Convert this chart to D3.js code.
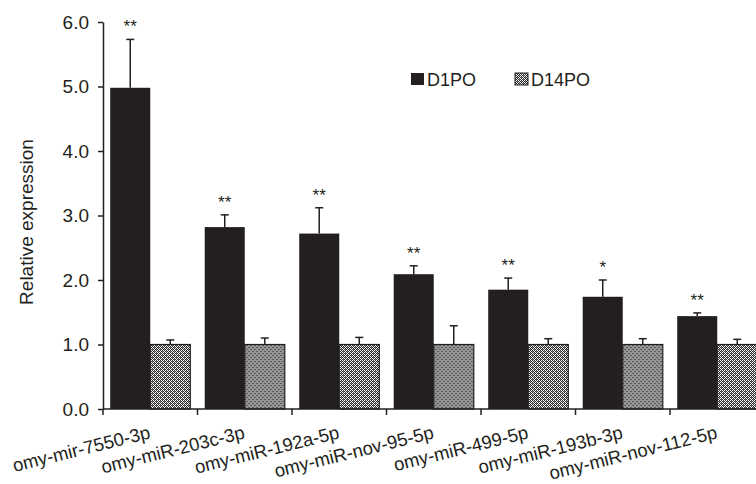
<!DOCTYPE html>
<html><head><meta charset="utf-8">
<script src="https://cdn.jsdelivr.net/npm/d3@7"></script>
<style>body{margin:0;background:#fff}svg{display:block;font-family:"Liberation Sans",Arial,sans-serif}</style>
</head><body><svg id="c" width="756" height="484"></svg>
<script>
const categories=["omy-mir-7550-3p","omy-miR-203c-3p","omy-miR-192a-5p","omy-miR-nov-95-5p","omy-miR-499-5p","omy-miR-193b-3p","omy-miR-nov-112-5p"];
const seriesNames=["D1PO","D14PO"];
const d1po=[4.98,2.82,2.72,2.09,1.85,1.74,1.44];
const d1poErr=[0.75,0.19,0.40,0.13,0.18,0.26,0.05];
const d14po=[1.0,1.0,1.0,1.0,1.0,1.0,1.0];
const d14poErr=[0.07,0.10,0.11,0.29,0.09,0.09,0.08];
const sig=["**","**","**","**","**","*","**"];
const yTicks=[0,1,2,3,4,5,6];

(function(){
const svg=d3.select("#c");
const mLeft=103, mTop=22, mBottom=409, catW=94.5;
const mRight=mLeft+catW*categories.length;
const x=d3.scaleBand().domain(categories).range([mLeft,mRight]).paddingInner(0).paddingOuter(0);
const xs=d3.scaleBand().domain(seriesNames).range([0,x.bandwidth()]).paddingOuter(0.18).paddingInner(0);
const y=d3.scaleLinear().domain([0,6]).range([mBottom,mTop]);
const ink="#231f20";

const defs=svg.append("defs");
const pat=defs.append("pattern").attr("id","hatch").attr("patternUnits","userSpaceOnUse").attr("width",4).attr("height",4);
pat.append("rect").attr("width",4).attr("height",4).attr("fill","#fff");
[[1,0,"#2a2a2a"],[0,1,"#2a2a2a"],[2,1,"#2a2a2a"],[1,2,"#2a2a2a"],[1,1,"#888"],
 [3,2,"#2a2a2a"],[2,3,"#2a2a2a"],[0,3,"#2a2a2a"],[3,0,"#2a2a2a"],[3,3,"#888"]].forEach(p=>{
  pat.append("rect").attr("x",p[0]).attr("y",p[1]).attr("width",1).attr("height",1).attr("fill",p[2]);
});

const data=categories.map((c,i)=>({c,i,vals:[{s:"D1PO",v:d1po[i],e:d1poErr[i]},{s:"D14PO",v:d14po[i],e:d14poErr[i]}]}));

const g=svg.append("g");
const groups=g.selectAll("g.grp").data(data).enter().append("g").attr("class","grp").attr("transform",d=>`translate(${x(d.c)},0)`);
groups.selectAll("rect").data(d=>d.vals).enter().append("rect")
 .attr("x",d=>xs(d.s)).attr("width",xs.bandwidth())
 .attr("y",d=>y(d.v)).attr("height",d=>y(0)-y(d.v))
 .attr("fill",d=>d.s==="D1PO"?ink:"url(#hatch)")
 .attr("stroke",ink).attr("stroke-width",d=>d.s==="D1PO"?0:1.2);
groups.selectAll("g.err").data(d=>d.vals).enter().append("g").attr("class","err").each(function(d){
  const cx=xs(d.s)+xs.bandwidth()/2;
  const s=d3.select(this);
  s.append("line").attr("x1",cx).attr("x2",cx).attr("y1",y(d.v)).attr("y2",y(d.v+d.e)).attr("stroke",ink).attr("stroke-width",1.5);
  s.append("line").attr("x1",cx-4).attr("x2",cx+4).attr("y1",y(d.v+d.e)).attr("y2",y(d.v+d.e)).attr("stroke",ink).attr("stroke-width",1.5);
});
groups.append("text").attr("x",d=>xs("D1PO")+xs.bandwidth()/2).attr("y",d=>y(d.vals[0].v+d.vals[0].e)-7)
 .attr("text-anchor","middle").attr("font-size",17).attr("fill",ink).text(d=>sig[d.i]);

const yAxis=d3.axisLeft(y).tickValues(yTicks).tickFormat(d3.format(".1f")).tickSize(5).tickSizeOuter(0);
const ya=svg.append("g").attr("transform",`translate(${mLeft},0)`).call(yAxis);
ya.select(".domain").attr("stroke",ink).attr("stroke-width",1.5);
ya.selectAll(".tick line").attr("stroke",ink).attr("stroke-width",1.5);
ya.selectAll(".tick text").attr("font-size",19).attr("fill",ink).attr("x",-14).attr("font-family","Liberation Sans, Arial, sans-serif");

const xa=svg.append("g").attr("transform",`translate(0,${mBottom})`);
xa.append("line").attr("x1",mLeft).attr("x2",mRight).attr("stroke",ink).attr("stroke-width",1.5);
const bounds=categories.map(c=>x(c));
xa.selectAll("line.t").data(bounds).enter().append("line").attr("class","t").attr("x1",d=>d).attr("x2",d=>d).attr("y1",0).attr("y2",6).attr("stroke",ink).attr("stroke-width",1.5);
xa.selectAll("text").data(categories).enter().append("text")
 .attr("transform",d=>`translate(${x(d)+x.bandwidth()/2+1},29) rotate(-14)`)
 .attr("text-anchor","end").attr("font-size",18.5).attr("fill",ink).text(d=>d);

svg.append("text").attr("transform","translate(33,222) rotate(-90)").attr("text-anchor","middle")
 .attr("font-size",19).attr("fill",ink).text("Relative expression");

const leg=svg.append("g");
const lx=[411,515];
seriesNames.forEach((s,i)=>{
  leg.append("rect").attr("x",lx[i]).attr("y",73).attr("width",13).attr("height",12)
   .attr("fill",i===0?ink:"url(#hatch)").attr("stroke",ink).attr("stroke-width",i===0?0:1);
  leg.append("text").attr("x",lx[i]+16).attr("y",86).attr("font-size",18).attr("fill",ink).text(s);
});
})();
</script></body></html>
